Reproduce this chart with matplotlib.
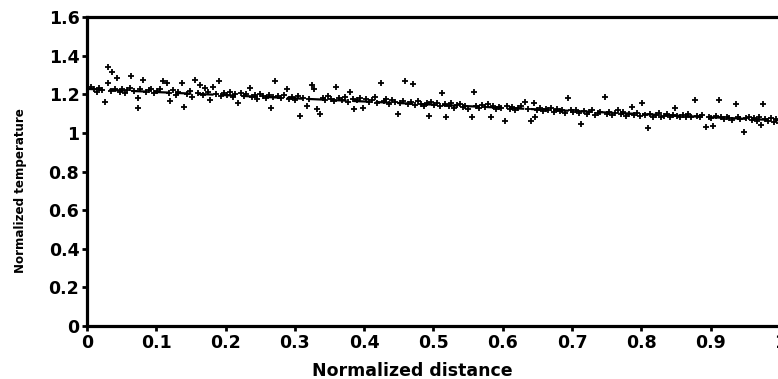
import matplotlib.pyplot as plt

# measured points (normalized distance, normalized temperature)
dist = [0.002, 0.006, 0.010, 0.014, 0.018, 0.022, 0.026, 0.030, 0.031, 0.034, 0.036, 0.040, 0.043, 0.047,
        0.051, 0.055, 0.058, 0.062, 0.064, 0.068, 0.073, 0.073, 0.077, 0.081, 0.085, 0.089, 0.093, 0.097,
        0.101, 0.105, 0.110, 0.115, 0.118, 0.120, 0.124, 0.128, 0.132, 0.137, 0.140, 0.144, 0.148, 0.152,
        0.156, 0.160, 0.163, 0.167, 0.170, 0.174, 0.178, 0.182, 0.186, 0.190, 0.194, 0.198,
        0.202, 0.206, 0.210, 0.214, 0.218, 0.222, 0.226, 0.230, 0.235, 0.238, 0.242, 0.246, 0.250, 0.254,
        0.258, 0.262, 0.266, 0.269, 0.272, 0.276, 0.280, 0.284, 0.288, 0.292, 0.296, 0.300,
        0.304, 0.308, 0.312, 0.317, 0.320, 0.325, 0.328, 0.332, 0.336, 0.340, 0.344, 0.348, 0.352, 0.356,
        0.360, 0.364, 0.368, 0.372, 0.376, 0.380, 0.384, 0.386, 0.390, 0.394, 0.399,
        0.403, 0.407, 0.411, 0.415, 0.419, 0.425, 0.428, 0.432, 0.436, 0.440, 0.444, 0.449, 0.452, 0.456,
        0.459, 0.463, 0.467, 0.470, 0.474, 0.478, 0.482, 0.486, 0.490, 0.493, 0.497,
        0.501, 0.505, 0.509, 0.512, 0.516, 0.518, 0.522, 0.526, 0.530, 0.534, 0.538, 0.542, 0.546, 0.550,
        0.555, 0.558, 0.562, 0.566, 0.570, 0.574, 0.578, 0.583, 0.586, 0.590, 0.594, 0.598,
        0.603, 0.606, 0.610, 0.614, 0.618, 0.622, 0.626, 0.632, 0.636, 0.641, 0.645, 0.646, 0.650, 0.654,
        0.658, 0.662, 0.666, 0.670, 0.674, 0.678, 0.682, 0.686, 0.690, 0.694, 0.698,
        0.702, 0.706, 0.710, 0.713, 0.717, 0.721, 0.725, 0.729, 0.733, 0.737, 0.741, 0.747, 0.750, 0.754,
        0.758, 0.762, 0.766, 0.770, 0.774, 0.778, 0.782, 0.786, 0.790, 0.794, 0.798,
        0.801, 0.805, 0.810, 0.813, 0.817, 0.821, 0.825, 0.829, 0.833, 0.837, 0.841, 0.845, 0.848, 0.852,
        0.856, 0.860, 0.864, 0.868, 0.872, 0.877, 0.880, 0.884, 0.888, 0.894, 0.897,
        0.901, 0.904, 0.908, 0.912, 0.915, 0.919, 0.923, 0.927, 0.931, 0.936, 0.939, 0.943, 0.948, 0.951,
        0.955, 0.959, 0.963, 0.967, 0.970, 0.973, 0.975, 0.979, 0.983, 0.987, 0.991, 0.995, 0.998]

temp = [1.230, 1.240, 1.225, 1.210, 1.235, 1.220, 1.162, 1.343, 1.260, 1.215, 1.317, 1.225, 1.286, 1.210,
        1.230, 1.205, 1.220, 1.235, 1.296, 1.215, 1.182, 1.127, 1.225, 1.274, 1.210, 1.220, 1.230, 1.205,
        1.215, 1.225, 1.270, 1.260, 1.205, 1.165, 1.220, 1.195, 1.210, 1.257, 1.136, 1.200, 1.215, 1.185,
        1.274, 1.205, 1.250, 1.195, 1.235, 1.210, 1.170, 1.240, 1.200, 1.270, 1.190, 1.205,
        1.195, 1.210, 1.185, 1.200, 1.153, 1.205, 1.190, 1.200, 1.234, 1.185, 1.195, 1.175, 1.200, 1.190,
        1.180, 1.195, 1.131, 1.185, 1.269, 1.190, 1.180, 1.195, 1.227, 1.175, 1.185, 1.170,
        1.190, 1.087, 1.180, 1.140, 1.175, 1.250, 1.225, 1.125, 1.100, 1.180, 1.170, 1.190, 1.175, 1.165,
        1.239, 1.180, 1.170, 1.185, 1.160, 1.210, 1.175, 1.124, 1.170, 1.180, 1.131,
        1.175, 1.160, 1.170, 1.185, 1.155, 1.260, 1.165, 1.175, 1.150, 1.170, 1.160, 1.100, 1.155, 1.165,
        1.270, 1.150, 1.160, 1.255, 1.145, 1.165, 1.150, 1.140, 1.155, 1.090, 1.160,
        1.145, 1.155, 1.140, 1.205, 1.150, 1.081, 1.140, 1.155, 1.130, 1.145, 1.150, 1.135, 1.140, 1.125,
        1.080, 1.210, 1.140, 1.130, 1.145, 1.135, 1.150, 1.080, 1.140, 1.125, 1.135, 1.130,
        1.062, 1.140, 1.125, 1.135, 1.120, 1.130, 1.140, 1.160, 1.125, 1.062, 1.155, 1.080, 1.120, 1.130,
        1.115, 1.125, 1.120, 1.130, 1.110, 1.125, 1.115, 1.120, 1.105, 1.180, 1.120,
        1.110, 1.120, 1.105, 1.045, 1.115, 1.100, 1.110, 1.120, 1.095, 1.105, 1.110, 1.188, 1.100, 1.110,
        1.095, 1.105, 1.120, 1.100, 1.110, 1.090, 1.100, 1.135, 1.095, 1.105, 1.090,
        1.153, 1.095, 1.027, 1.100, 1.085, 1.095, 1.105, 1.080, 1.090, 1.100, 1.085, 1.095, 1.131, 1.090,
        1.080, 1.095, 1.085, 1.100, 1.080, 1.170, 1.090, 1.080, 1.095, 1.030, 1.085,
        1.075, 1.035, 1.090, 1.170, 1.080, 1.070, 1.085, 1.075, 1.065, 1.150, 1.080, 1.070, 1.006, 1.075,
        1.085, 1.065, 1.075, 1.060, 1.080, 1.040, 1.150, 1.070, 1.060, 1.075, 1.055, 1.070, 1.050]

# fitted trend
fit_x = [0.0, 1.0]
fit_y = [1.228, 1.065]

xticks = [0, 0.1, 0.2, 0.3, 0.4, 0.5, 0.6, 0.7, 0.8, 0.9, 1.0]
yticks = [0, 0.2, 0.4, 0.6, 0.8, 1.0, 1.2, 1.4, 1.6]

plt.rcParams['font.family'] = 'DejaVu Sans'
plt.rcParams['font.weight'] = 'bold'

fig = plt.figure(figsize=(7.78, 3.79), dpi=100)
ax = fig.add_axes([0.1118, 0.1398, 0.8907, 0.8152])

ax.plot(fit_x, fit_y, color='black', lw=1.6, ls=(0, (7, 3)))
ax.plot(dist, temp, '+', color='black', ms=5, mew=1.3)

ax.set_xlim(0, 1)
ax.set_ylim(0, 1.6)
ax.set_xticks(xticks)
ax.set_xticklabels(['%g' % t for t in xticks])
ax.set_yticks(yticks)
ax.set_yticklabels(['%g' % t for t in yticks])
ax.tick_params(direction='out', length=3.5, width=2, labelsize=12.5, pad=2)

for side in ['left', 'bottom', 'top']:
    ax.spines[side].set_linewidth(2.3)
ax.spines['right'].set_visible(False)

ax.set_xlabel('Normalized distance', fontsize=12.5, fontweight='bold')
ax.xaxis.set_label_coords(0.469, -0.115)
ax.set_ylabel('Normalized temperature', fontsize=8.6, fontweight='bold')
ax.yaxis.set_label_coords(-0.086, 0.44)

fig.savefig('out.png', dpi=100)
